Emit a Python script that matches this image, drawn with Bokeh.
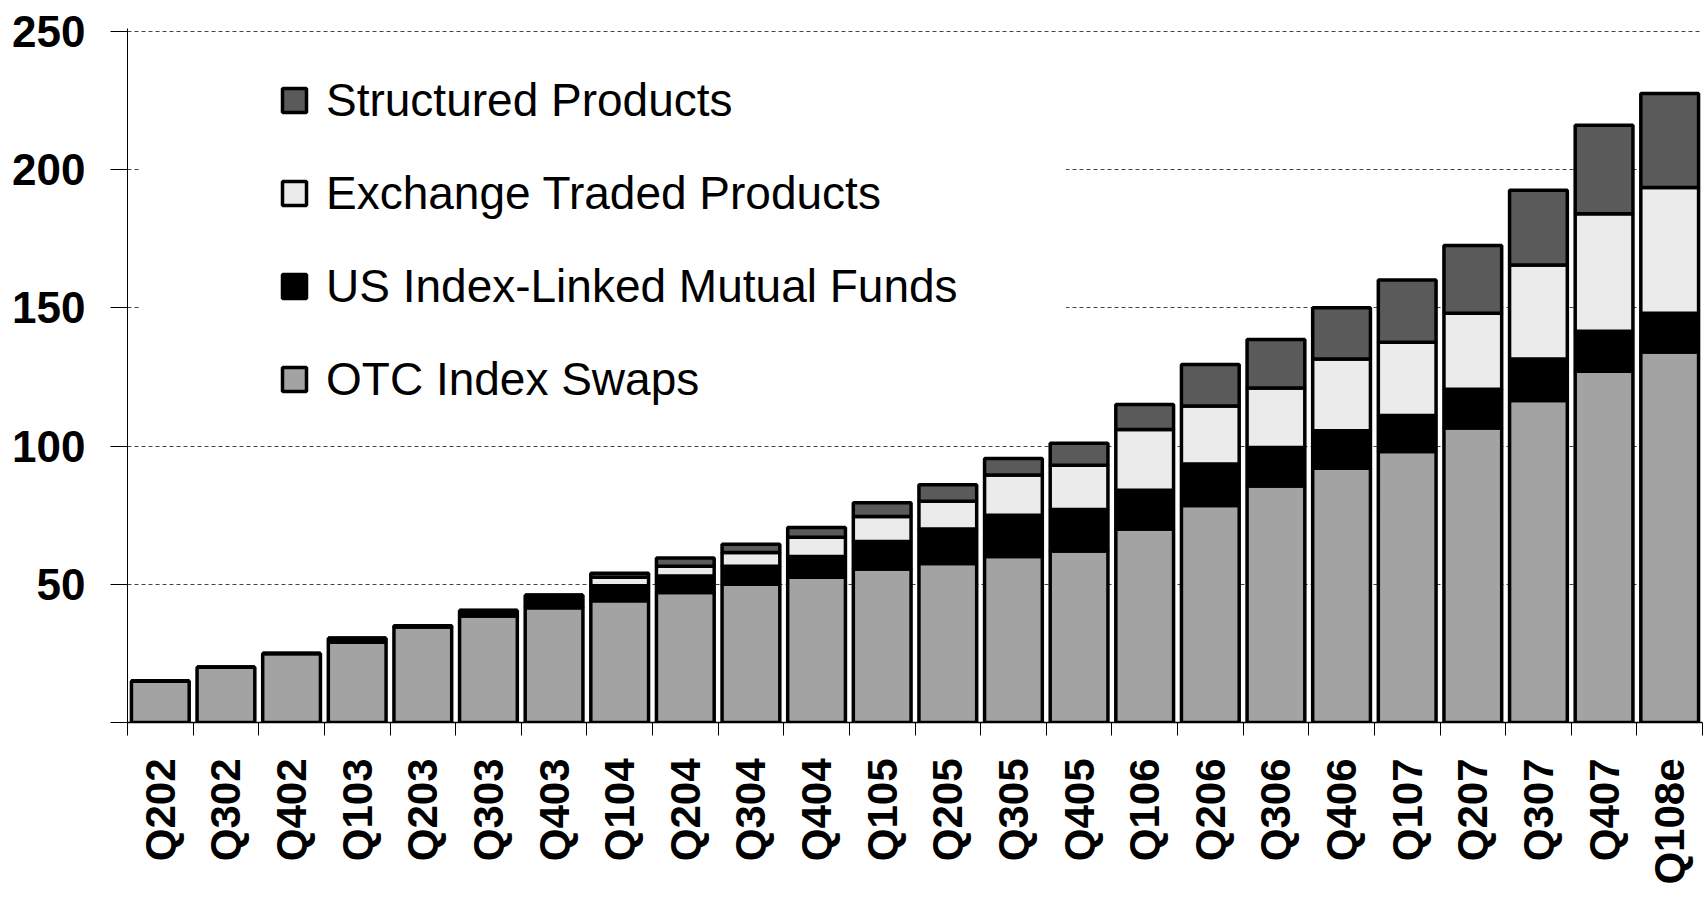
import math
from bokeh.plotting import figure
from bokeh.models import (FactorRange, Range1d, LinearAxis, CategoricalAxis, FixedTicker,
                          Legend, LegendItem, BoxAnnotation, ColumnDataSource, Grid)
from bokeh.embed import file_html
from bokeh.resources import INLINE

quarters = ["Q202", "Q302", "Q402", "Q103", "Q203", "Q303", "Q403", "Q104", "Q204", "Q304",
            "Q404", "Q105", "Q205", "Q305", "Q405", "Q106", "Q206", "Q306", "Q406", "Q107",
            "Q207", "Q307", "Q407", "Q108e"]

otc_swaps = [15, 20, 25, 29, 34.5, 38.5, 41.5, 44, 47, 50, 52.5, 55.5, 57.5, 60, 62, 70,
             78.5, 85.5, 92, 98, 106.5, 116.5, 127, 134]
us_mutual_funds = [0, 0, 0, 1.5, 0.5, 2, 4.5, 5.5, 6, 6.5, 7.5, 10, 12.5, 15, 15, 14,
                   15, 14, 13.5, 13, 14, 15, 14.5, 14]
exchange_traded = [0, 0, 0, 0, 0, 0, 0, 3, 3.5, 5, 7, 9, 10, 14.5, 16, 22,
                   21, 21.5, 26, 26.5, 27.5, 34, 42.5, 45.5]
structured = [0, 0, 0, 0, 0, 0, 0, 1.5, 3, 3, 3.5, 5, 6, 6, 8, 9,
              15, 17.5, 18.5, 22.5, 24.5, 27, 32, 34]

series_keys = ["otc", "mf", "etp", "sp"]
series_names = ["OTC Index Swaps", "US Index-Linked Mutual Funds",
                "Exchange Traded Products", "Structured Products"]
series_colors = ["#a3a3a3", "#000000", "#ebebeb", "#5a5a5a"]
y_ticks = [0, 50, 100, 150, 200, 250]

source = ColumnDataSource(dict(q=quarters, otc=otc_swaps, mf=us_mutual_funds,
                               etp=exchange_traded, sp=structured))

p = figure(width=1703, height=893, x_range=FactorRange(factors=quarters, range_padding=0),
           y_range=Range1d(0, 251), output_backend="svg", toolbar_location=None,
           x_axis_type=None, y_axis_type=None,
           min_border_left=127, min_border_right=1, min_border_top=28, min_border_bottom=171)
p.outline_line_color = None
p.background_fill_color = "white"

renderers = p.vbar_stack(series_keys, x="q", width=0.88, source=source,
                         fill_color=series_colors, line_color="black", line_width=3.5)

# y axis
yaxis = LinearAxis(ticker=FixedTicker(ticks=y_ticks))
yaxis.major_label_overrides = {0: ""}
yaxis.major_label_text_font = "Liberation Sans"
yaxis.major_label_text_font_style = "bold"
yaxis.major_label_text_font_size = "44px"
yaxis.major_label_text_color = "black"
yaxis.major_tick_out = 17
yaxis.major_tick_in = 0
yaxis.minor_tick_line_color = None
yaxis.major_label_standoff = 25
yaxis.axis_line_color = "black"
yaxis.axis_line_width = 1
p.add_layout(yaxis, "left")

# x axis with ticks at category boundaries
tick_axis = LinearAxis(ticker=FixedTicker(ticks=list(range(len(quarters) + 1))))
tick_axis.major_label_text_font_size = "0px"
tick_axis.major_label_text_color = None
tick_axis.major_label_standoff = 0
tick_axis.major_tick_out = 13
tick_axis.major_tick_in = 0
tick_axis.minor_tick_line_color = None
tick_axis.axis_line_color = "black"
tick_axis.axis_line_width = 1.5
p.add_layout(tick_axis, "below")

cat_axis = CategoricalAxis()
cat_axis.axis_line_color = None
cat_axis.major_tick_line_color = None
cat_axis.major_label_orientation = math.pi / 2
cat_axis.major_label_text_font = "Liberation Sans"
cat_axis.major_label_text_font_style = "bold"
cat_axis.major_label_text_font_size = "42px"
cat_axis.major_label_text_color = "black"
cat_axis.major_label_standoff = 17
p.add_layout(cat_axis, "below")

ygrid = Grid(dimension=1, ticker=FixedTicker(ticks=[50, 100, 150, 200, 250]),
             grid_line_color="#444444", grid_line_dash="4 3", grid_line_width=1)
p.add_layout(ygrid, "center")

# white area behind the legend hides the gridlines there
p.add_layout(BoxAnnotation(left=0.2, right=14.3, bottom=110, top=240,
                           fill_color="white", fill_alpha=1, line_color=None))

items = [LegendItem(label=series_names[i], renderers=[renderers[i]]) for i in [3, 2, 1, 0]]
legend = Legend(items=items, location=(152, 316), orientation="vertical",
                label_text_font="Liberation Sans", label_text_font_size="46px",
                label_text_color="black", glyph_width=30, glyph_height=30,
                label_standoff=17, spacing=39, padding=0, margin=0,
                background_fill_alpha=0, border_line_color=None)
p.add_layout(legend, "center")

open("out.html", "w").write(file_html(p, INLINE))
